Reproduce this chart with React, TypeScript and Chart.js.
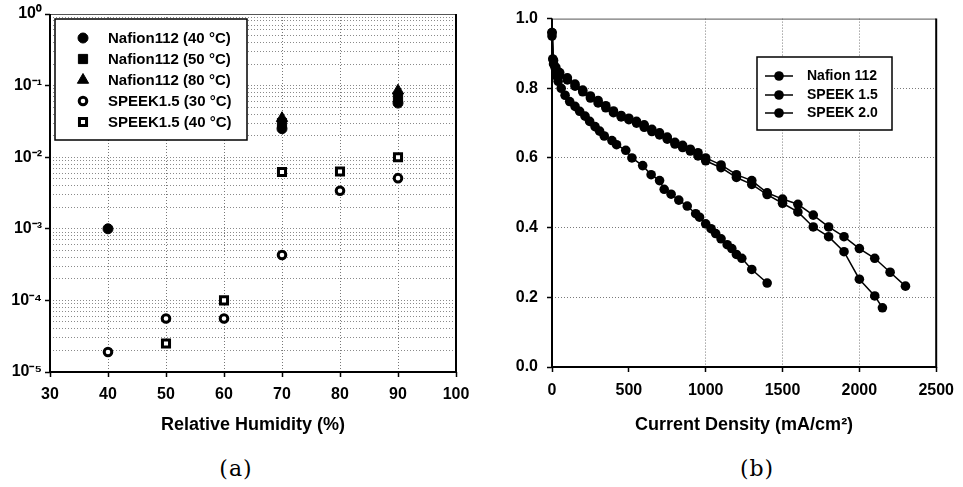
import React, { useEffect, useRef } from 'react';
import { Chart, registerables } from 'chart.js';

Chart.register(...registerables);

const FONT = "'Liberation Sans', Arial, Helvetica, sans-serif";

// ---------- Panel (a): conductivity vs relative humidity ----------
const rhTicks = [30, 40, 50, 60, 70, 80, 90, 100];
const condDecades = [-5, -4, -3, -2, -1, 0];

const nafion40RH = [40, 70, 90];
const nafion40Cond = [1.0e-3, 0.025, 0.057];
const nafion50RH = [70, 90];
const nafion50Cond = [0.030, 0.068];
const nafion80RH = [70, 90];
const nafion80Cond = [0.035, 0.085];
const speek30RH = [40, 50, 60, 70, 80, 90];
const speek30Cond = [1.9e-5, 5.6e-5, 5.6e-5, 4.3e-4, 3.4e-3, 5.1e-3];
const speek40RH = [50, 60, 70, 80, 90];
const speek40Cond = [2.5e-5, 1.0e-4, 6.2e-3, 6.3e-3, 1.0e-2];

const seriesALabels = [
  'Nafion112 (40 °C)',
  'Nafion112 (50 °C)',
  'Nafion112 (80 °C)',
  'SPEEK1.5 (30 °C)',
  'SPEEK1.5 (40 °C)',
];

// ---------- Panel (b): polarization curves ----------
const currentTicks = [0, 500, 1000, 1500, 2000, 2500];
const voltageTicks = [0, 0.2, 0.4, 0.6, 0.8, 1.0];

const nafionCurrent = [0, 10, 25, 50, 100, 150, 200, 250, 300, 350, 400, 450, 500, 550, 600, 650, 700, 750, 800, 850, 900, 950, 1000, 1100, 1200, 1300, 1400, 1500, 1600, 1700, 1800, 1900, 2000, 2100, 2200, 2300];
const nafionVoltage = [0.96, 0.88, 0.86, 0.845, 0.83, 0.812, 0.795, 0.778, 0.765, 0.75, 0.735, 0.722, 0.714, 0.705, 0.695, 0.682, 0.672, 0.66, 0.645, 0.636, 0.625, 0.615, 0.60, 0.58, 0.552, 0.535, 0.50, 0.482, 0.467, 0.436, 0.402, 0.374, 0.34, 0.312, 0.272, 0.232];

const speek15Current = [0, 5, 20, 30, 40, 60, 85, 115, 150, 180, 215, 245, 280, 310, 340, 390, 420, 480, 520, 590, 645, 700, 730, 775, 825, 880, 935, 960, 1000, 1035, 1065, 1100, 1140, 1170, 1200, 1235, 1300, 1400];
const speek15Voltage = [0.96, 0.884, 0.86, 0.836, 0.82, 0.80, 0.78, 0.762, 0.748, 0.734, 0.72, 0.705, 0.69, 0.677, 0.663, 0.65, 0.638, 0.622, 0.60, 0.578, 0.552, 0.535, 0.51, 0.496, 0.479, 0.462, 0.44, 0.43, 0.411, 0.397, 0.383, 0.368, 0.351, 0.34, 0.323, 0.312, 0.28, 0.241];

const speek20Current = [0, 10, 25, 50, 100, 150, 200, 250, 300, 350, 400, 450, 500, 550, 600, 650, 700, 750, 800, 850, 900, 950, 1000, 1100, 1200, 1300, 1400, 1500, 1600, 1700, 1800, 1900, 2000, 2100, 2150];
const speek20Voltage = [0.95, 0.87, 0.85, 0.838, 0.824, 0.806, 0.79, 0.772, 0.758, 0.744, 0.73, 0.718, 0.71, 0.70, 0.688, 0.676, 0.666, 0.654, 0.64, 0.63, 0.62, 0.606, 0.592, 0.572, 0.544, 0.524, 0.495, 0.47, 0.445, 0.402, 0.374, 0.331, 0.252, 0.204, 0.17];

const seriesBLabels = ['Nafion 112', 'SPEEK 1.5', 'SPEEK 2.0'];

const zip = (xs: number[], ys: number[]) => xs.map((x, i) => ({ x, y: ys[i] }));

const SUP: Record<string, string> = { '0': '⁰', '1': '¹', '2': '²', '3': '³', '4': '⁴', '5': '⁵', '-': '⁻' };
const supStr = (n: number) => String(n).split('').map((c) => SUP[c] || c).join('');
const isDecade = (v: number) => Math.abs(Math.log10(v) - Math.round(Math.log10(v))) < 1e-6;

function drawMarker(ctx: CanvasRenderingContext2D, style: string, x: number, y: number, r: number, fill: string, bw: number) {
  ctx.save();
  ctx.beginPath();
  if (style === 'circle') {
    ctx.arc(x, y, r, 0, Math.PI * 2);
  } else if (style === 'rect') {
    const s = Math.SQRT1_2 * r;
    ctx.rect(x - s, y - s, 2 * s, 2 * s);
  } else if (style === 'triangle') {
    ctx.moveTo(x, y - r);
    ctx.lineTo(x + r * 0.866, y + r * 0.5);
    ctx.lineTo(x - r * 0.866, y + r * 0.5);
    ctx.closePath();
  }
  ctx.fillStyle = fill;
  ctx.fill();
  if (bw > 0) {
    ctx.lineWidth = bw;
    ctx.strokeStyle = '#000';
    ctx.stroke();
  }
  ctx.restore();
}

const boxLegendPlugin = {
  id: 'boxLegend',
  afterDraw(chart: any, _args: any, opts: any) {
    if (!opts || !opts.box) return;
    const ctx: CanvasRenderingContext2D = chart.ctx;
    const [bx, by, bw, bh] = opts.box;
    ctx.save();
    ctx.fillStyle = '#fff';
    ctx.fillRect(bx, by, bw, bh);
    ctx.strokeStyle = '#000';
    ctx.lineWidth = 1.5;
    ctx.strokeRect(bx, by, bw, bh);
    ctx.font = `bold ${opts.fontSize}px ${FONT}`;
    ctx.textBaseline = 'middle';
    ctx.textAlign = 'left';
    chart.data.datasets.forEach((ds: any, i: number) => {
      const y = opts.rowY[i];
      if (opts.lineFrom != null) {
        ctx.beginPath();
        ctx.moveTo(opts.lineFrom, y);
        ctx.lineTo(opts.lineTo, y);
        ctx.lineWidth = 1.5;
        ctx.strokeStyle = '#000';
        ctx.stroke();
      }
      const ms = opts.markers ? opts.markers[i] : { r: ds.pointRadius, bw: ds.pointBorderWidth };
      drawMarker(ctx, ds.pointStyle || 'circle', opts.markerX, y, ms.r, ds.pointBackgroundColor, ms.bw);
      ctx.fillStyle = '#000';
      ctx.fillText(ds.label, opts.textX, y + 0.5);
    });
    ctx.restore();
  },
};

const framePlugin = {
  id: 'frame',
  beforeDatasetsDraw(chart: any) {
    const { ctx, chartArea: a } = chart;
    ctx.save();
    ctx.strokeStyle = '#555';
    ctx.lineWidth = 1;
    ctx.beginPath();
    ctx.moveTo(a.left, a.top + 0.5);
    ctx.lineTo(a.right, a.top + 0.5);
    ctx.stroke();
    ctx.strokeStyle = '#000';
    ctx.lineWidth = 2;
    ctx.beginPath();
    ctx.moveTo(a.left, a.top);
    ctx.lineTo(a.left, a.bottom);
    ctx.lineTo(a.right, a.bottom);
    ctx.lineTo(a.right, a.top);
    ctx.stroke();
    ctx.restore();
  },
};

const tickFont = { family: FONT, size: 16, weight: 'bold' as const };
const titleFont = { family: FONT, size: 18, weight: 'bold' as const };

function makeConfigA(): any {
  const styleA = [
    { pointStyle: 'circle', r: 5, fill: '#000', bw: 1 },
    { pointStyle: 'rect', r: 6.5, fill: '#000', bw: 1 },
    { pointStyle: 'triangle', r: 6.5, fill: '#000', bw: 1 },
    { pointStyle: 'circle', r: 3.8, fill: '#fff', bw: 3 },
    { pointStyle: 'rect', r: 5, fill: '#fff', bw: 3 },
  ];
  const dataA = [
    zip(nafion40RH, nafion40Cond),
    zip(nafion50RH, nafion50Cond),
    zip(nafion80RH, nafion80Cond),
    zip(speek30RH, speek30Cond),
    zip(speek40RH, speek40Cond),
  ];
  const logTicks: number[] = [];
  for (let d = 0; d < condDecades.length - 1; d++) {
    for (let m = 1; m <= 9; m++) logTicks.push(Number((m * Math.pow(10, condDecades[d])).toPrecision(3)));
  }
  logTicks.push(Math.pow(10, condDecades[condDecades.length - 1]));
  return {
    type: 'scatter',
    data: {
      datasets: dataA.map((d, i) => ({
        label: seriesALabels[i],
        data: d,
        pointStyle: styleA[i].pointStyle,
        pointRadius: styleA[i].r,
        pointHoverRadius: styleA[i].r,
        pointBackgroundColor: styleA[i].fill,
        pointBorderColor: '#000',
        pointBorderWidth: styleA[i].bw,
        showLine: false,
      })).reverse(),
    },
    options: {
      animation: false,
      responsive: false,
      devicePixelRatio: 1,
      layout: { padding: { top: 14, right: 24, left: 0, bottom: 0 } },
      plugins: {
        legend: { display: false },
        tooltip: { enabled: false },
        boxLegend: {
          box: [55, 19, 192, 121],
          rowY: [122, 101, 80, 59, 38],
          markerX: 83,
          textX: 108,
          fontSize: 15,
          markers: [
            { r: 5, bw: 3 },
            { r: 3.8, bw: 3 },
            { r: 6.5, bw: 1 },
            { r: 6.5, bw: 1 },
            { r: 5, bw: 1 },
          ],
        },
      },
      scales: {
        x: {
          type: 'linear',
          min: rhTicks[0],
          max: rhTicks[rhTicks.length - 1],
          afterBuildTicks: (s: any) => { s.ticks = rhTicks.map((v) => ({ value: v })); },
          afterFit: (s: any) => { s.height = 68; },
          grid: {
            color: (c: any) => (c.tick && c.tick.value > rhTicks[0] && c.tick.value < rhTicks[rhTicks.length - 1] ? '#777' : 'transparent'),
            lineWidth: 1,
            tickLength: 5,
            tickColor: '#000',
            tickWidth: 1.5,
          },
          border: { display: false, dash: [1, 2] },
          ticks: { font: tickFont, color: '#000', padding: 8, maxRotation: 0, callback: (v: any) => String(v) },
          title: { display: true, text: 'Relative Humidity (%)', font: titleFont, color: '#000', padding: { top: 0, bottom: 4 } },
        },
        y: {
          type: 'logarithmic',
          min: logTicks[0],
          max: logTicks[logTicks.length - 1],
          afterBuildTicks: (s: any) => { s.ticks = logTicks.map((v) => ({ value: v, major: isDecade(v) })); },
          afterFit: (s: any) => { s.width = 50; },
          grid: {
            color: (c: any) => (c.tick && c.tick.value < 0.99 && c.tick.value > 1.01e-5 ? '#8a8a8a' : 'transparent'),
            lineWidth: 1,
            tickLength: 5,
            tickColor: (c: any) => (c.tick && isDecade(c.tick.value) ? '#000' : 'transparent'),
            tickWidth: 1.5,
          },
          border: { display: false, dash: [1, 2] },
          ticks: {
            font: tickFont,
            color: '#000',
            padding: 3,
            autoSkip: false,
            callback: (v: any) => (isDecade(Number(v)) ? '10' + supStr(Math.round(Math.log10(Number(v)))) : ''),
          },
        },
      },
    },
    plugins: [framePlugin, boxLegendPlugin],
  };
}

function makeConfigB(): any {
  const dataB = [zip(nafionCurrent, nafionVoltage), zip(speek15Current, speek15Voltage), zip(speek20Current, speek20Voltage)];
  return {
    type: 'line',
    data: {
      datasets: dataB.map((d, i) => ({
        label: seriesBLabels[i],
        data: d,
        borderColor: '#000',
        borderWidth: 1.5,
        pointStyle: 'circle',
        pointRadius: 4.8,
        pointHoverRadius: 4.8,
        pointBackgroundColor: '#000',
        pointBorderColor: '#000',
        pointBorderWidth: 0,
        tension: 0,
        fill: false,
        clip: false,
      })),
    },
    options: {
      animation: false,
      responsive: false,
      devicePixelRatio: 1,
      layout: { padding: { top: 14, right: 24, left: 0, bottom: 0 } },
      plugins: {
        legend: { display: false },
        tooltip: { enabled: false },
        boxLegend: {
          box: [267, 57, 135, 73],
          rowY: [76, 95, 113],
          lineFrom: 275,
          lineTo: 303,
          markerX: 289,
          textX: 317,
          fontSize: 14,
          markers: [{ r: 4.8, bw: 0 }, { r: 4.8, bw: 0 }, { r: 4.8, bw: 0 }],
        },
      },
      scales: {
        x: {
          type: 'linear',
          min: currentTicks[0],
          max: currentTicks[currentTicks.length - 1],
          afterBuildTicks: (s: any) => { s.ticks = currentTicks.map((v) => ({ value: v })); },
          afterFit: (s: any) => { s.height = 73; },
          grid: {
            color: (c: any) => (c.tick && c.tick.value >= 1000 && c.tick.value < 2500 ? '#7a7a7a' : 'transparent'),
            lineWidth: 1,
            tickLength: 5,
            tickColor: '#000',
            tickWidth: 1.5,
          },
          border: { display: false, dash: [1, 2] },
          ticks: { font: tickFont, color: '#000', padding: 9, maxRotation: 0, callback: (v: any) => String(v) },
          title: { display: true, text: 'Current Density (mA/cm²)', font: titleFont, color: '#000', padding: { top: 0, bottom: 4 } },
        },
        y: {
          type: 'linear',
          min: voltageTicks[0],
          max: voltageTicks[voltageTicks.length - 1],
          afterBuildTicks: (s: any) => { s.ticks = voltageTicks.map((v) => ({ value: v })); },
          afterFit: (s: any) => { s.width = 62; },
          grid: {
            color: (c: any) => (c.tick && c.tick.value > 0.01 && c.tick.value < 0.99 ? '#7a7a7a' : 'transparent'),
            lineWidth: 1,
            tickLength: 5,
            tickColor: '#000',
            tickWidth: 1.5,
          },
          border: { display: false, dash: [1, 2] },
          ticks: { font: tickFont, color: '#000', padding: 9, callback: (v: any) => Number(v).toFixed(1) },
        },
      },
    },
    plugins: [framePlugin, boxLegendPlugin],
  };
}

function ChartCanvas({ config, width, height, left }: { config: () => any; width: number; height: number; left: number }) {
  const ref = useRef<HTMLCanvasElement | null>(null);
  useEffect(() => {
    if (!ref.current) return;
    const chart = new Chart(ref.current, config());
    return () => chart.destroy();
  }, [config]);
  return (
    <canvas
      ref={ref}
      width={width}
      height={height}
      style={{ position: 'absolute', left, top: 0, width, height }}
    />
  );
}

const captionStyle: React.CSSProperties = {
  position: 'absolute',
  top: 455,
  width: 80,
  textAlign: 'center',
  fontFamily: "'DejaVu Serif', 'Liberation Serif', serif",
  fontSize: 22,
  letterSpacing: 1,
  lineHeight: '28px',
  color: '#000',
};

export default function App() {
  return (
    <div style={{ position: 'absolute', left: 0, top: 0, width: 963, height: 487, background: '#fff', overflow: 'hidden' }}>
      <ChartCanvas config={makeConfigA} width={480} height={440} left={0} />
      <ChartCanvas config={makeConfigB} width={473} height={440} left={490} />
      <div style={{ ...captionStyle, left: 196 }}>(a)</div>
      <div style={{ ...captionStyle, left: 717 }}>(b)</div>
    </div>
  );
}
